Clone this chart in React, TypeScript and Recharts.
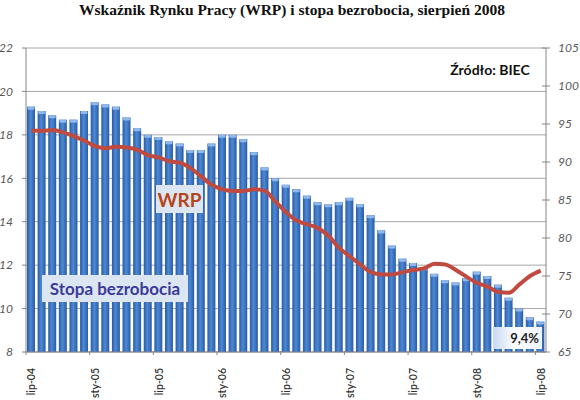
import React from 'react';
import { ComposedChart, Bar, Line, XAxis, YAxis, CartesianGrid } from 'recharts';

const MONTHS = [
  'lip-04', 'sie-04', 'wrz-04', 'paź-04', 'lis-04', 'gru-04',
  'sty-05', 'lut-05', 'mar-05', 'kwi-05', 'maj-05', 'cze-05', 'lip-05', 'sie-05', 'wrz-05', 'paź-05', 'lis-05', 'gru-05',
  'sty-06', 'lut-06', 'mar-06', 'kwi-06', 'maj-06', 'cze-06', 'lip-06', 'sie-06', 'wrz-06', 'paź-06', 'lis-06', 'gru-06',
  'sty-07', 'lut-07', 'mar-07', 'kwi-07', 'maj-07', 'cze-07', 'lip-07', 'sie-07', 'wrz-07', 'paź-07', 'lis-07', 'gru-07',
  'sty-08', 'lut-08', 'mar-08', 'kwi-08', 'maj-08', 'cze-08', 'lip-08',
];

// stopa bezrobocia (%), lewa oś
const UNEMPLOYMENT = [
  19.3, 19.1, 18.9, 18.7, 18.7, 19.1, 19.5, 19.4, 19.3, 18.8,
  18.3, 18.0, 17.9, 17.7, 17.6, 17.3, 17.3, 17.6, 18.0, 18.0,
  17.8, 17.2, 16.5, 16.0, 15.7, 15.5, 15.2, 14.9, 14.8, 14.9,
  15.1, 14.8, 14.3, 13.6, 12.9, 12.3, 12.1, 11.9, 11.6, 11.3,
  11.2, 11.4, 11.7, 11.5, 11.1, 10.5, 10.0, 9.6, 9.4,
];

// Wskaźnik Rynku Pracy, prawa oś
const WRP = [
  94.1, 94.1, 94.2, 93.9, 93.4, 92.8, 92.1, 91.8, 92.0, 91.9,
  91.6, 90.9, 90.6, 90.1, 89.9, 89.2, 88.1, 87.0, 86.4, 86.2,
  86.2, 86.4, 86.2, 84.8, 83.4, 82.3, 81.8, 81.3, 80.3, 78.7,
  77.6, 76.5, 75.5, 75.2, 75.2, 75.5, 75.8, 76.0, 76.6, 76.5,
  75.8, 74.9, 74.1, 73.6, 72.9, 72.8, 73.9, 75.0, 75.7,
];

const LEFT_TICKS = [8, 10, 12, 14, 16, 18, 20, 22];
const RIGHT_TICKS = [65, 70, 75, 80, 85, 90, 95, 100, 105];

const data = MONTHS.map((m, i) => ({ month: m, rate: UNEMPLOYMENT[i], wrp: WRP[i] }));

const AXIS = '#868686';
const FONT = 'Lato, "Open Sans", sans-serif';

const BarShape = (props: any) => {
  const { x, y, width, height } = props;
  if (!height || height <= 0) return null;
  return (
    <g>
      <rect x={x} y={y} width={width} height={height} fill="url(#barGrad)" />
      <rect x={x + 0.5} y={y} width={width - 1} height={3} rx={1.2} fill="#8fb8ec" />
    </g>
  );
};

const MonthTick = (props: any) => {
  const { x, y, payload } = props;
  return (
    <g transform={`translate(${x},${y})`}>
      <line x1={-5.3} x2={-5.3} y1={-3} y2={1} stroke={AXIS} />
      <text
        transform="rotate(-90)"
        x={-14}
        y={0}
        dy={4}
        textAnchor="end"
        fontSize={10.5}
        fontWeight={600}
        fill="#333"
        fontFamily={FONT}
      >
        {payload.value}
      </text>
    </g>
  );
};

const RightTick = (props: any) => {
  const { x, y, payload } = props;
  return (
    <g>
      <line x1={x - 4} x2={x + 4} y1={y} y2={y} stroke={AXIS} />
      <text x={x + 12} y={y} dy={4} textAnchor="start" fontSize={12} fontStyle="italic" fill="#595959" fontFamily={FONT}>
        {payload.value}
      </text>
    </g>
  );
};

const box: React.CSSProperties = {
  position: 'absolute',
  display: 'flex',
  alignItems: 'center',
  justifyContent: 'center',
  fontFamily: FONT,
  fontWeight: 700,
};

export default function App() {
  return (
    <div style={{ position: 'absolute', left: 0, top: 0, width: 580, height: 400, background: '#fff' }}>
      <div
        style={{
          position: 'absolute',
          left: 0,
          top: 1,
          width: 584,
          textAlign: 'center',
          fontFamily: '"Liberation Serif", "Times New Roman", serif',
          fontWeight: 700,
          fontSize: 15.5,
          color: '#111',
        }}
      >
        Wskaźnik Rynku Pracy (WRP) i stopa bezrobocia, sierpień 2008
      </div>
      <ComposedChart
        width={580}
        height={400}
        data={data}
        margin={{ top: 48, right: 0, bottom: 0, left: 0 }}
        barSize={8}
      >
        <defs>
          <linearGradient id="barGrad" x1="0" y1="0" x2="1" y2="0">
            <stop offset="0%" stopColor="#2a5ba3" />
            <stop offset="45%" stopColor="#4d89d6" />
            <stop offset="100%" stopColor="#2a5ba3" />
          </linearGradient>
        </defs>
        <CartesianGrid yAxisId="left" vertical={false} stroke="#a6a6a6" />
        <XAxis
          dataKey="month"
          interval={5}
          height={48}
          tick={<MonthTick />}
          tickLine={false}
          tickSize={0}
          stroke={AXIS}
        />
        <YAxis
          yAxisId="left"
          domain={[8, 22]}
          ticks={LEFT_TICKS}
          width={26}
          tickSize={4}
          tickMargin={9}
          stroke={AXIS}
          tick={{ fontSize: 12, fontStyle: 'italic', fill: '#595959', fontFamily: FONT }}
        />
        <YAxis
          yAxisId="right"
          orientation="right"
          domain={[65, 105]}
          ticks={RIGHT_TICKS}
          width={34}
          tickSize={0}
          tickMargin={0}
          tickLine={false}
          stroke={AXIS}
          tick={<RightTick />}
        />
        <Bar yAxisId="left" dataKey="rate" shape={<BarShape />} isAnimationActive={false} />
        <Line
          yAxisId="right"
          dataKey="wrp"
          type="monotone"
          stroke="#c04a3f"
          strokeWidth={4}
          dot={false}
          activeDot={false}
          isAnimationActive={false}
        />
      </ComposedChart>
      <div style={{ ...box, left: 448, top: 58, width: 84, height: 22, fontSize: 14, color: '#111' }}>Źródło: BIEC</div>
      <div style={{ ...box, left: 156, top: 185, width: 47, height: 28, fontSize: 19, color: '#b5461c', background: '#dce6f2' }}>
        WRP
      </div>
      <div style={{ ...box, left: 42, top: 275, width: 146, height: 27, fontSize: 17, color: '#3b3b9b', background: '#dce6f2' }}>
        Stopa bezrobocia
      </div>
      <div
        style={{
          ...box,
          left: 493,
          top: 327,
          width: 49,
          height: 22,
          justifyContent: 'flex-end',
          paddingRight: 3,
          boxSizing: 'border-box',
          fontSize: 13,
          color: '#222',
          background: 'linear-gradient(to right, #c6d9f1, #ffffff 45%, #eef3fa)',
        }}
      >
        9,4%
      </div>
    </div>
  );
}
